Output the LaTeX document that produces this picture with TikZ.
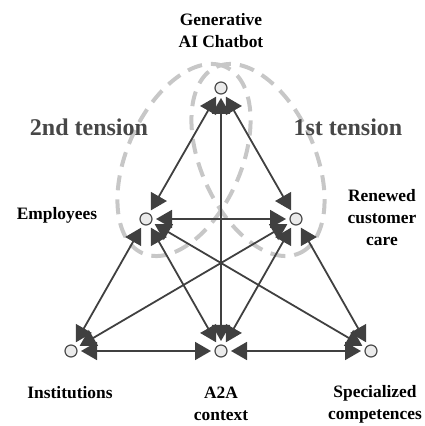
\documentclass[tikz,border=0pt]{standalone}
\usepackage{fontspec}
\setmainfont{Liberation Serif}
\usetikzlibrary{arrows.meta}

\begin{document}
\begin{tikzpicture}[
        x=1pt, y=1pt,
        % Kiểu dáng chung
        actor/.style={
            circle, draw=black!70, fill=black!8, line width=1.2pt,
            minimum size=12pt, inner sep=0pt, outer sep=4pt
        },
        lbl/.style={
            align=center, font=\fontsize{17.4}{22}\selectfont\bfseries
        },
        tlbl/.style={
            text=black!72, font=\fontsize{24}{28}\selectfont\bfseries
        },
        zone/.style={
            draw=black!22, line width=4pt, dash pattern=on 15pt off 9pt
        },
        link/.style={
            {Triangle[length=16pt,width=18pt]}-{Triangle[length=16pt,width=18pt]},
            line width=1.8pt, draw=black!75
        }
    ]
        \useasboundingbox (0,0) rectangle (424,426);

        % Hai vùng căng thẳng
        \draw[zone, rotate around={-66:(258,266)}] (258,266) ellipse [x radius=102, y radius=57];
        \draw[zone, rotate around={66:(184,266)}] (184,266) ellipse [x radius=102, y radius=57];

        \node[tlbl] (t2) at (89,299) {2nd tension};
        \node[tlbl] (t1) at (348,299) {1st tension};

        % Các tác nhân
        \node[actor] (gen) at (221,338) {};
        \node[actor] (emp) at (146,207) {};
        \node[actor] (ren) at (296,207) {};
        \node[actor] (ins) at (71,75) {};
        \node[actor] (ctx) at (221,75) {};
        \node[actor] (spe) at (371,75) {};

        % Nhãn
        \node[lbl] (genl) at (221,395) {Generative\\AI Chatbot};
        \node[lbl] (empl) at (57,211) {Employees};
        \node[lbl] (renl) at (382,208) {Renewed\\customer\\care};
        \node[lbl] (insl) at (70,33) {Institutions};
        \node[lbl] (ctxl) at (221,22) {A2A\\context};
        \node[lbl] (spel) at (375,22) {Specialized\\competences};

        % Mũi tên kết nối
        \draw[link] (gen) -- (emp);
        \draw[link] (gen) -- (ren);
        \draw[link] (gen) -- (ctx);
        \draw[link] (emp) -- (ren);
        \draw[link] (emp) -- (ins);
        \draw[link] (emp) -- (ctx);
        \draw[link] (emp) -- (spe);
        \draw[link] (ren) -- (ins);
        \draw[link] (ren) -- (ctx);
        \draw[link] (ren) -- (spe);
        \draw[link] (ins) -- (ctx);
        \draw[link] (ctx) -- (spe);

    \end{tikzpicture}
\end{document}
